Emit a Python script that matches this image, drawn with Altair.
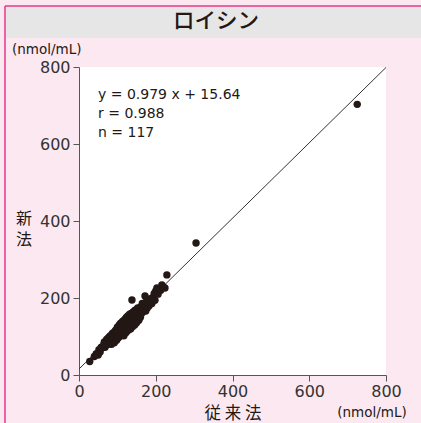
import altair as alt
import pandas as pd

# ---- data ----
conventional = [28,40,45,50,52,55,58,60,65,66,68,70,72,73,75,76,78,80,80,82,83,85,85,87,88,90,90,92,93,94,
                95,96,98,98,100,100,102,103,104,105,106,107,108,110,110,111,112,113,114,115,116,117,118,119,120,
                121,122,123,124,125,126,127,128,129,130,131,132,133,134,135,136,137,138,138,140,141,142,143,145,
                146,147,148,150,151,152,153,155,156,158,160,162,163,165,167,170,172,174,175,178,180,183,186,190,
                193,196,198,200,203,206,210,213,216,220,224,229,305,725]
new_method = [35,48,55,52,66,60,72,70,80,86,72,78,92,82,90,96,80,100,84,102,90,96,80,108,92,110,98,84,112,100,
              116,104,90,118,100,124,96,126,110,130,100,116,134,104,120,136,108,124,140,112,128,102,142,118,132,
              146,110,126,150,132,114,140,154,122,144,118,158,130,150,120,160,138,195,150,126,164,140,156,130,
              168,146,160,136,166,150,174,158,142,170,150,178,160,186,164,182,205,166,190,174,194,180,198,186,
              202,212,194,218,226,210,224,220,234,228,226,260,343,703]
slope = [0.979]
intercept = [15.64]
line_x = [0, 800]
stats_lines = ["y = 0.979 x + 15.64", "r  = 0.988", "n = 117"]
ticks = [0, 200, 400, 600, 800]

JP = "Noto Sans CJK JP"
LAT = "DejaVu Sans"
W, H = 307, 308

pts = pd.DataFrame({"x": conventional, "y": new_method})
reg = pd.DataFrame({"x": line_x, "y": [slope[0] * v + intercept[0] for v in line_x]})
one = pd.DataFrame({"a": [0]})

xs = alt.Scale(domain=[0, 800], nice=False)
ys = alt.Scale(domain=[0, 800], nice=False)
xaxis = alt.Axis(values=ticks, title=None, grid=False, labelFontSize=16, labelColor="#333333",
                 labelFont=LAT, tickSize=6, tickColor="#555555", domainColor="#555555",
                 labelPadding=2, labelFlush=False)
yaxis = alt.Axis(values=ticks, title=None, grid=False, labelFontSize=16, labelColor="#333333",
                 labelFont=LAT, tickSize=6, tickColor="#555555", domainColor="#555555",
                 labelPadding=3, labelFlush=False)

band = alt.Chart(one).mark_rect(color="#e6e6e7").encode(
    x=alt.value(-73), x2=alt.value(342), y=alt.value(-60), y2=alt.value(-29))
top_border = alt.Chart(one).mark_rule(color="#e4398d", strokeWidth=1.5).encode(
    x=alt.value(-74), x2=alt.value(342), y=alt.value(-61))
left_border = alt.Chart(one).mark_rule(color="#e4398d", strokeWidth=1.5).encode(
    x=alt.value(-74), y=alt.value(-61), y2=alt.value(356))

def txt(s, x, y, size, align="center", weight="normal", font=JP, **kw):
    return alt.Chart(one).mark_text(text=s, font=font, fontSize=size, color="#231815",
                                    align=align, baseline="middle", fontWeight=weight, **kw).encode(
        x=alt.value(x), y=alt.value(y))

texts = [
    txt("ロイシン", 137, -45, 21.5, weight=500),
    txt("(nmol/mL)", -67, -17, 13.5, align="left", font=LAT),
    txt(["新", "法"], -55, 152, 16, lineHeight=21),
    txt("従 来 法", 154, 347, 16.5),
    txt("(nmol/mL)", 293, 346, 13.5, font=LAT),
]
for i, s in enumerate(stats_lines):
    texts.append(txt(s, 19, 28 + i * 19, 14, align="left", font=LAT))

line = alt.Chart(reg).mark_line(color="#333333", strokeWidth=1).encode(
    x=alt.X("x:Q", scale=xs, axis=xaxis), y=alt.Y("y:Q", scale=ys, axis=yaxis))
points = alt.Chart(pts).mark_circle(size=55, color="#231815", opacity=1).encode(
    x=alt.X("x:Q", scale=xs, axis=xaxis), y=alt.Y("y:Q", scale=ys, axis=yaxis))

chart = alt.layer(band, top_border, left_border, *texts, line, points).properties(
    width=W, height=H,
    autosize=alt.AutoSizeParams(type="none"),
    padding={"left": 79, "top": 67, "right": 35, "bottom": 48},
    background="#fce8f0",
).configure_view(fill="white", stroke=None)

chart.save("out.html", embed_options={"renderer": "svg", "actions": False})
